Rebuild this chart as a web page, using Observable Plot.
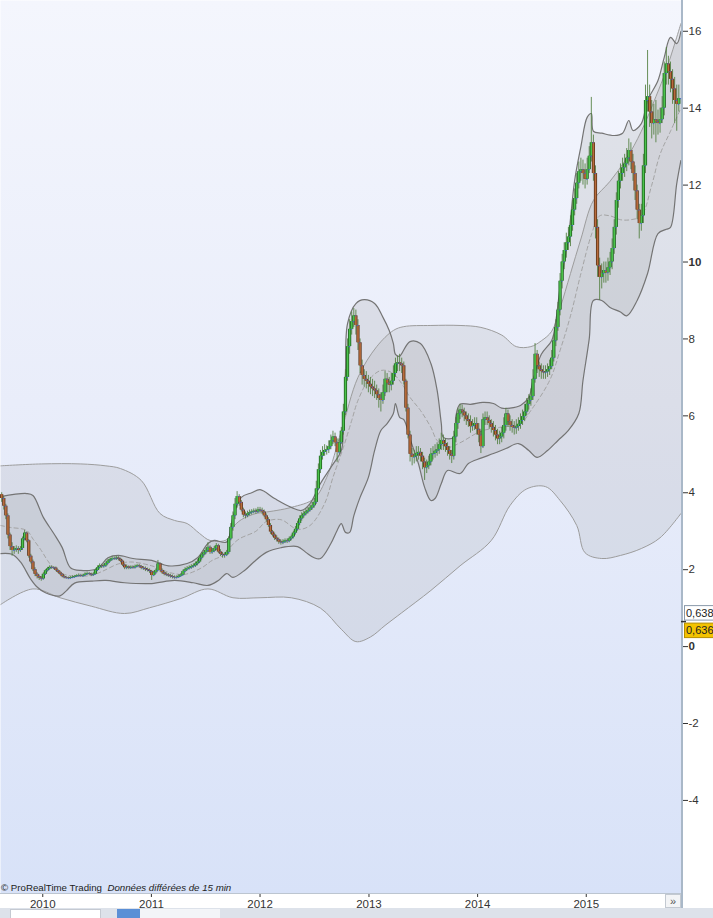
<!DOCTYPE html>
<html><head><meta charset="utf-8">
<script src="https://cdn.jsdelivr.net/npm/d3@7"></script>
<script src="https://cdn.jsdelivr.net/npm/@observablehq/plot@0.6"></script>
<style>html,body{margin:0;background:#fff;overflow:hidden}svg{display:block}</style>
</head><body><div id="chart"></div>
<script>
// ---- weekly candles (first candle week of 2009-08-16) ----
const startDate = "2009-08-16";
const firstOpen = 3.95;
const closes = [
3.85,3.65,3.4,2.9,2.6,2.5,2.52,2.55,2.5,2.55,
2.8,2.95,2.75,2.35,2.2,2.0,1.88,1.82,1.78,1.76,
1.88,1.97,2.02,2.06,2.05,2.04,1.98,1.93,1.88,1.82,
1.79,1.78,1.77,1.79,1.8,1.82,1.84,1.85,1.83,1.85,
1.88,1.9,1.88,1.86,1.88,1.98,2.05,2.1,2.08,2.1,
2.16,2.22,2.26,2.29,2.28,2.3,2.27,2.22,2.12,2.05,
2.07,2.04,2.06,2.05,2.08,2.1,2.08,2.04,2.03,2.0,
1.98,1.95,1.85,1.92,1.98,2.15,1.98,1.92,1.88,1.86,
1.84,1.82,1.8,1.79,1.8,1.83,1.86,1.95,2.0,2.03,
2.05,2.08,2.1,2.15,2.2,2.3,2.38,2.44,2.5,2.58,
2.45,2.48,2.55,2.62,2.46,2.4,2.37,2.38,2.45,2.8,
3.1,3.4,3.7,3.9,3.75,3.55,3.42,3.4,3.45,3.48,
3.5,3.52,3.5,3.55,3.54,3.5,3.4,3.3,3.15,2.98,
2.9,2.82,2.78,2.72,2.7,2.72,2.75,2.74,2.8,2.85,
2.95,3.05,3.2,3.32,3.4,3.45,3.5,3.54,3.6,3.66,
3.75,4.1,4.6,4.95,5.05,5.1,5.12,5.2,5.35,5.45,
5.3,5.05,5.3,5.6,6.1,7.0,7.8,8.25,8.45,8.6,
8.35,7.9,7.3,7.05,6.95,6.9,6.82,6.75,6.7,6.65,
6.55,6.45,6.4,6.6,6.95,6.85,6.8,6.9,7.1,7.35,
7.38,7.35,7.3,6.9,6.2,5.5,5.0,4.92,4.95,5.02,
5.05,4.95,4.8,4.65,4.7,4.8,5.0,5.02,5.08,5.12,
5.25,5.36,5.28,5.2,5.1,5.0,4.95,5.45,5.8,6.05,
6.15,6.1,6.0,5.9,5.85,5.72,5.75,5.8,5.65,5.5,
5.2,5.9,5.95,5.88,5.8,5.7,5.62,5.5,5.4,5.45,
5.55,5.75,6.05,5.85,5.75,5.7,5.68,5.72,5.78,5.88,
5.98,6.1,6.3,6.4,6.5,6.95,7.6,7.3,7.2,7.15,
7.12,7.14,7.2,7.28,7.5,7.95,8.3,8.75,9.5,10.0,
10.3,10.5,10.65,10.95,11.35,11.65,12.05,12.35,12.4,12.3,
12.15,12.4,12.75,13.1,12.3,10.9,9.9,9.6,9.7,9.78,
9.72,9.85,10.0,10.35,10.9,11.6,12.1,12.3,12.45,12.55,
12.7,12.9,12.6,12.3,11.85,11.35,11.0,11.2,12.5,14.2,
14.3,13.9,13.6,13.7,13.65,13.6,13.7,14.0,14.9,15.15,
14.95,14.75,14.5,14.2,14.1,14.25];
const highs = [
4.0,3.9,3.7,3.45,2.95,2.7,2.6,2.62,2.6,2.6,
2.85,3.02,2.98,2.78,2.4,2.25,2.05,1.92,1.86,1.82,
1.92,2.0,2.06,2.1,2.1,2.08,2.07,2.0,1.96,1.9,
1.85,1.82,1.81,1.82,1.84,1.85,1.87,1.89,1.88,1.88,
1.92,1.94,1.93,1.91,1.92,2.02,2.1,2.15,2.14,2.14,
2.2,2.27,2.3,2.34,2.33,2.35,2.34,2.3,2.25,2.15,
2.12,2.1,2.1,2.1,2.12,2.14,2.14,2.11,2.08,2.07,
2.04,2.02,1.98,1.96,2.02,2.24,2.18,2.02,1.96,1.92,
1.9,1.88,1.86,1.84,1.84,1.87,1.9,1.99,2.05,2.08,
2.1,2.13,2.15,2.2,2.26,2.36,2.44,2.5,2.56,2.7,
2.62,2.55,2.6,2.68,2.66,2.52,2.45,2.44,2.5,2.85,
3.2,3.5,3.85,4.03,3.95,3.8,3.6,3.5,3.52,3.55,
3.56,3.58,3.58,3.62,3.62,3.6,3.55,3.45,3.35,3.2,
3.02,2.95,2.88,2.82,2.77,2.78,2.8,2.8,2.85,2.9,
3.0,3.12,3.26,3.4,3.48,3.52,3.58,3.62,3.68,3.75,
3.85,4.3,4.75,5.1,5.2,5.25,5.22,5.35,5.5,5.6,
5.55,5.4,5.4,5.7,6.3,7.2,8.0,8.5,8.7,8.79,
8.75,8.5,8.0,7.45,7.2,7.15,7.05,7.0,6.95,6.9,
6.8,6.7,6.6,6.8,7.15,7.1,7.0,7.1,7.3,7.5,
7.55,7.6,7.5,7.4,6.95,6.3,5.6,5.15,5.1,5.2,
5.2,5.15,5.05,4.9,4.85,4.95,5.15,5.2,5.25,5.3,
5.4,5.55,5.5,5.4,5.3,5.2,5.1,5.6,5.95,6.2,
6.3,6.28,6.2,6.1,6.05,6.0,5.9,5.95,5.95,5.8,
5.6,6.05,6.1,6.1,6.0,5.9,5.85,5.75,5.65,5.6,
5.7,5.95,6.2,6.15,6.0,5.9,5.85,5.9,5.95,6.05,
6.15,6.3,6.45,6.55,6.7,7.2,7.88,7.7,7.4,7.35,
7.3,7.3,7.35,7.45,7.7,8.1,8.5,8.95,9.7,10.2,
10.5,10.75,10.9,11.2,11.6,11.9,12.3,12.6,12.7,12.65,
12.55,12.7,13.0,14.28,13.3,12.5,11.1,10.1,9.95,10.0,
10.0,10.1,10.25,10.6,11.1,11.8,12.35,12.55,12.7,12.8,
12.95,13.2,13.1,12.8,12.5,12.0,11.5,11.5,12.8,14.6,
15.5,14.6,14.2,14.1,14.2,13.95,14.0,14.3,15.2,15.58,
15.35,15.2,15.0,14.8,14.6,14.6];
const lows = [
3.75,3.55,3.3,2.8,2.5,2.35,2.4,2.45,2.4,2.45,
2.5,2.75,2.7,2.3,2.15,1.95,1.82,1.76,1.72,1.7,
1.73,1.85,1.94,1.99,2.01,2.0,1.95,1.9,1.85,1.79,
1.76,1.75,1.74,1.75,1.77,1.78,1.8,1.81,1.8,1.8,
1.82,1.85,1.84,1.82,1.83,1.86,1.95,2.02,2.03,2.04,
2.06,2.13,2.19,2.23,2.24,2.24,2.23,2.18,2.08,2.0,
2.0,2.0,2.01,2.01,2.02,2.05,2.04,2.0,1.98,1.95,
1.94,1.9,1.72,1.82,1.88,1.95,1.94,1.88,1.84,1.82,
1.8,1.78,1.76,1.75,1.76,1.78,1.81,1.84,1.92,1.97,
1.99,2.01,2.04,2.06,2.1,2.16,2.25,2.33,2.39,2.45,
2.4,2.4,2.44,2.5,2.42,2.34,2.3,2.3,2.34,2.4,
2.75,3.0,3.3,3.6,3.65,3.5,3.35,3.32,3.35,3.4,
3.42,3.45,3.44,3.46,3.48,3.44,3.35,3.24,3.1,2.92,
2.85,2.76,2.72,2.66,2.64,2.65,2.68,2.68,2.7,2.75,
2.8,2.9,3.0,3.14,3.26,3.34,3.4,3.45,3.5,3.55,
3.6,3.7,4.05,4.5,4.85,4.95,4.98,5.02,5.12,5.25,
5.2,4.79,5.0,5.25,5.5,6.0,6.9,7.6,8.1,8.3,
8.1,7.7,7.1,6.8,6.75,6.7,6.6,6.55,6.5,6.45,
6.4,6.2,6.1,6.3,6.5,6.6,6.6,6.65,6.8,7.0,
7.15,7.15,7.1,6.8,6.1,5.4,4.8,4.7,4.75,4.8,
4.85,4.8,4.6,4.32,4.5,4.6,4.7,4.85,4.9,4.95,
5.0,5.1,5.1,5.05,4.95,4.85,4.76,4.85,5.3,5.65,
5.9,5.95,5.85,5.75,5.7,5.55,5.6,5.62,5.5,5.3,
5.02,5.15,5.75,5.75,5.65,5.55,5.45,5.35,5.25,5.25,
5.3,5.4,5.6,5.7,5.6,5.55,5.5,5.52,5.6,5.65,
5.75,5.85,6.0,6.15,6.25,6.4,6.85,7.1,7.0,6.95,
6.95,6.95,7.0,7.05,7.2,7.4,7.8,8.2,8.6,9.3,
9.8,10.1,10.3,10.4,10.8,11.2,11.5,11.9,12.1,12.0,
11.9,12.0,12.3,12.6,12.1,10.6,9.6,9.0,9.3,9.45,
9.45,9.5,9.65,9.8,10.2,10.7,11.4,11.9,12.1,12.2,
12.35,12.5,12.4,12.1,11.6,11.1,10.6,10.8,11.0,12.3,
13.9,13.5,13.2,13.3,13.1,13.3,13.35,13.6,13.8,14.6,
14.6,14.4,14.1,13.6,13.4,13.9];

// ---- Bollinger bands: [week index, value] ----
const innerUpper = [[-0.6,3.9],[12,3.98],[15,3.93],[20,3.36],[25,2.94],[29,2.58],[33,2.05],[38,1.98],[46,2.03],[51,2.31],[56,2.37],[63,2.29],[72,2.24],[80,2.1],[89,2.16],[94,2.31],[99,2.68],[102,2.76],[108,2.72],[111,3.36],[115,3.88],[120,4.0],[124,4.08],[131,3.85],[139,3.62],[144,3.54],[148,3.72],[153,4.24],[158,4.66],[163,5.1],[164,5.62],[165,7.1],[166,8.4],[170,8.92],[174,9.02],[179,8.92],[183,8.56],[186,8.22],[188,7.88],[189,7.6],[191,7.55],[192,7.62],[196,7.93],[201,7.88],[206,7.36],[209,6.66],[211,5.8],[212,5.44],[217,5.44],[218,6.0],[220,6.3],[225,6.3],[231,6.35],[236,6.32],[240,6.2],[244,6.2],[249,6.27],[253,6.48],[255,6.92],[259,7.6],[264,7.96],[266,8.48],[268,9.34],[272,10.64],[275,12.12],[278,13.0],[281,13.76],[283,13.86],[284,13.4],[288,13.35],[294,13.29],[298,13.35],[301,13.68],[303,13.42],[307,13.6],[310,14.2],[315,14.72],[318,15.32],[321,15.84],[324,15.68],[326,16.0]];
const innerLower = [[-0.6,2.42],[5,2.4],[9,2.2],[14,1.75],[17,1.55],[21,1.4],[28,1.32],[31,1.45],[35,1.65],[43,1.7],[50,1.72],[59,1.66],[72,1.64],[83,1.72],[92,1.66],[99,1.59],[104,1.72],[108,1.9],[111,1.8],[117,2.0],[121,2.2],[127,2.45],[134,2.57],[142,2.6],[146,2.45],[150,2.31],[153,2.29],[158,2.68],[161,3.02],[163,3.2],[165,2.97],[167,2.97],[169,3.4],[172,3.88],[176,4.4],[179,5.1],[182,5.62],[185,5.8],[188,6.06],[189,6.32],[191,5.96],[193,5.9],[196,5.4],[200,4.76],[203,4.14],[206,3.8],[208,3.85],[211,4.24],[214,4.58],[220,4.5],[224,4.76],[230,4.9],[236,5.02],[242,5.15],[248,5.28],[253,5.1],[257,4.92],[262,5.1],[267,5.36],[272,5.62],[277,6.06],[279,6.92],[282,8.0],[284,9.0],[288,9.0],[292,8.82],[297,8.7],[300,8.6],[305,9.0],[310,9.7],[315,10.74],[319,10.85],[321,10.9],[324,12.04],[326,12.64]];
const innerMid = [[-0.6,3.15],[4,3.1],[12,3.02],[15,2.8],[19,2.5],[22,2.24],[26,1.98],[32,1.85],[43,1.85],[48,1.95],[56,2.15],[62,2.2],[72,2.1],[81,1.92],[88,1.88],[96,2.05],[101,2.24],[108,2.42],[110,2.6],[114,2.8],[122,3.0],[127,3.25],[134,3.3],[142,3.05],[148,3.15],[155,3.72],[159,4.4],[164,5.18],[168,5.88],[171,6.4],[176,6.92],[182,7.18],[187,7.13],[192,6.84],[196,6.48],[201,6.14],[206,5.7],[209,5.36],[214,5.18],[220,5.3],[230,5.6],[239,5.7],[249,5.8],[254,6.14],[263,6.92],[268,7.7],[273,8.6],[278,9.7],[283,10.7],[287,11.2],[292,11.2],[297,11.1],[302,11.1],[307,11.2],[312,12.0],[316,12.8],[321,13.4],[326,14.0]];
const outerUpper = [[-0.6,4.7],[19,4.75],[38,4.75],[50,4.7],[57,4.63],[67,4.32],[76,3.46],[83,3.28],[89,3.2],[95,2.94],[100,2.76],[108,2.78],[111,3.1],[115,3.3],[122,3.46],[126,3.49],[139,3.62],[150,3.85],[156,4.4],[163,5.6],[171,7.0],[180,7.8],[188,8.22],[193,8.32],[206,8.35],[220,8.35],[230,8.3],[240,8.1],[247,7.8],[254,7.8],[259,7.95],[264,8.2],[268,8.8],[273,9.7],[278,10.6],[284,11.6],[292,12.1],[300,12.7],[307,13.4],[314,14.3],[319,15.0],[326,16.2]];
const outerLower = [[-0.6,1.09],[15,1.5],[28,1.27],[43,1.05],[59,0.86],[71,1.01],[86,1.25],[99,1.5],[111,1.27],[124,1.27],[139,1.27],[153,1.0],[163,0.45],[170,0.13],[177,0.25],[184,0.55],[192,0.88],[206,1.46],[220,2.1],[235,2.76],[244,3.67],[252,4.1],[261,4.16],[268,3.8],[276,3.15],[280,2.44],[288,2.29],[297,2.37],[307,2.55],[316,2.83],[326,3.46]];

// ---- axes / labels ----
const yTicks = [-4,-2,0,2,4,6,8,10,12,14,16];
const boldTicks = ["10","0"];
const years = [2010,2011,2012,2013,2014,2015];
const priceTags = [{label:"0,638", value:0.637, pos:"above"},{label:"0,636", value:0.637, pos:"below"}];
const captionA = "© ProRealTime Trading";
const captionB = "Données différées de 15 min";

const t0 = Date.parse(startDate + "T00:00:00Z");
const wk = w => new Date(t0 + w * 7 * 864e5);
const candles = closes.map((c, i) => ({date: wk(i), open: i ? closes[i-1] : firstOpen, close: c, high: highs[i], low: lows[i]}));
const up = candles.filter(d => d.close >= d.open);
const down = candles.filter(d => d.close < d.open);
const pts = arr => arr.map(([w, v]) => ({date: wk(w), v}));
// band outline: upper edge, then lower edge back (end vertices repeated so the curve closes straight)
const poly = (u, l) => {
  const U = pts(u), L = pts(l).reverse();
  return [...U, U[U.length - 1], L[0], ...L, L[L.length - 1]];
};
const curve = "catmull-rom";

const chart = Plot.plot({
  width: 713, height: 918,
  marginLeft: 0, marginRight: 32, marginTop: 0, marginBottom: 25,
  style: {background: "#fff", fontFamily: "'Liberation Sans', Arial, sans-serif", fontSize: "11.5px", color: "#333", overflow: "hidden"},
  x: {type: "utc", domain: [new Date("2009-08-12T00:00:00Z"), new Date("2015-11-17T00:00:00Z")],
      axis: "bottom", ticks: years.map(y => new Date(Date.UTC(y, 0, 1))), tickFormat: d3.utcFormat("%Y"), tickSize: 4, tickPadding: 2, label: null},
  y: {domain: [-6.42, 16.8], axis: "right", ticks: yTicks, tickFormat: d => String(d), tickSize: 6, tickPadding: 1, label: null},
  marks: [
    Plot.frame({fill: "url(#bgGrad)", stroke: "none"}),
    Plot.line(poly(outerUpper, outerLower), {x: "date", y: "v", fill: "#8a8a8a", fillOpacity: 0.14, stroke: "none", curve}),
    Plot.line(poly(innerUpper, innerLower), {x: "date", y: "v", fill: "#8a8a8a", fillOpacity: 0.17, stroke: "none", curve}),
    Plot.line(pts(outerUpper), {x: "date", y: "v", stroke: "#9c9c9c", strokeWidth: 1, curve}),
    Plot.line(pts(outerLower), {x: "date", y: "v", stroke: "#9c9c9c", strokeWidth: 1, curve}),
    Plot.line(pts(innerMid), {x: "date", y: "v", stroke: "#a3a3a3", strokeWidth: 1, strokeDasharray: "4,3", curve}),
    Plot.line(pts(innerUpper), {x: "date", y: "v", stroke: "#747474", strokeWidth: 1.2, curve}),
    Plot.line(pts(innerLower), {x: "date", y: "v", stroke: "#747474", strokeWidth: 1.2, curve}),
    Plot.ruleX(candles, {x: "date", y1: "low", y2: "high", stroke: "#4f7d3c", strokeWidth: 1, strokeOpacity: 0.85}),
    Plot.ruleX(up, {x: "date", y1: "open", y2: "close", stroke: "#1a5c1a", strokeWidth: 3.2}),
    Plot.ruleX(down, {x: "date", y1: "open", y2: "close", stroke: "#553016", strokeWidth: 3.2}),
    Plot.ruleX(up, {x: "date", y1: "open", y2: "close", stroke: "#4cc24c", strokeWidth: 1.7}),
    Plot.ruleX(down, {x: "date", y1: "open", y2: "close", stroke: "#b86c3c", strokeWidth: 1.7}),
    Plot.link(candles, {x1: "date", x2: d => new Date(+d.date + 5 * 864e5), y1: "close", y2: "close", stroke: "#3a58e6", strokeWidth: 1, strokeOpacity: 0.75, dx: 1})
  ]
});

const svg = chart;
const NS = "http://www.w3.org/2000/svg";
function el(tag, attrs, parent, text) {
  const e = document.createElementNS(NS, tag);
  for (const k in attrs) e.setAttribute(k, attrs[k]);
  if (text != null) e.textContent = text;
  (parent || svg).appendChild(e);
  return e;
}
const defs = document.createElementNS(NS, "defs");
svg.insertBefore(defs, svg.firstChild);
const lg = el("linearGradient", {id: "bgGrad", x1: 0, y1: 0, x2: 0, y2: 1}, defs);
el("stop", {offset: "0", "stop-color": "#f4f6fd"}, lg);
el("stop", {offset: "0.45", "stop-color": "#e9edfa"}, lg);
el("stop", {offset: "1", "stop-color": "#d8e2f8"}, lg);
const cp = el("clipPath", {id: "plotClip", clipPathUnits: "userSpaceOnUse"}, defs);
el("rect", {x: 0, y: 0, width: 681, height: 893}, cp);
svg.querySelectorAll("path").forEach(p => {
  const g = p.parentNode;
  if (g && g.getAttribute && /line/.test(g.getAttribute("aria-label") || "")) g.setAttribute("clip-path", "url(#plotClip)");
});

// white axis column on the right, then the y axis on top of it
el("rect", {x: 681, y: 0, width: 32, height: 908, fill: "#fff"});
svg.querySelectorAll('g[aria-label^="y-axis"]').forEach(g => svg.appendChild(g));

// bold labels
svg.querySelectorAll("text").forEach(t => {
  const g = t.closest("g[aria-label]");
  if (g && /y-axis/.test(g.getAttribute("aria-label")) && boldTicks.includes(t.textContent)) t.setAttribute("font-weight", "bold");
});

// chrome: axis lines, bottom strip
el("line", {x1: 0, x2: 681, y1: 893.5, y2: 893.5, stroke: "#bcc5d0"});
el("rect", {x: 681, y: 0, width: 2, height: 908, fill: "#a9b8c8"});
el("rect", {x: 0, y: 908, width: 713, height: 10, fill: "#dde2ea"});
el("rect", {x: 10.5, y: 909.5, width: 90, height: 9, fill: "#fff", stroke: "#c5cad2"});
el("rect", {x: 117, y: 909, width: 23, height: 9, fill: "#5b8fd6"});
el("rect", {x: 140, y: 909, width: 80, height: 9, fill: "#f3f5f8"});
el("rect", {x: 665.5, y: 894.5, width: 15, height: 13, fill: "#f3f4f6", stroke: "#c3c9d1"});
el("text", {x: 673, y: 905, "text-anchor": "middle", "font-size": 11, fill: "#555"}, null, "»");

// caption
const cap = el("text", {x: 1, y: 891, "font-size": 9.7, fill: "#222", "text-anchor": "start"});
el("tspan", {}, cap, captionA + "  ");
el("tspan", {"font-style": "italic"}, cap, captionB);

// price tags
const yS = chart.scale("y");
priceTags.forEach(p => {
  const yy = yS.apply(p.value);
  const top = p.pos === "above" ? yy - 16 : yy + 1.5;
  el("rect", {x: 684.5, y: top, width: 32, height: 14.5, fill: p.pos === "above" ? "#fff" : "#f3c300", stroke: p.pos === "above" ? "#8a9aaa" : "#b58d00"});
  el("text", {x: 686, y: top + 11, "font-size": 11, fill: "#222", "text-anchor": "start"}, null, p.label);
});
el("line", {x1: 681, x2: 686, y1: yS.apply(0.637), y2: yS.apply(0.637), stroke: "#333", "stroke-width": 1.5});

document.getElementById("chart").appendChild(svg);
</script></body></html>
